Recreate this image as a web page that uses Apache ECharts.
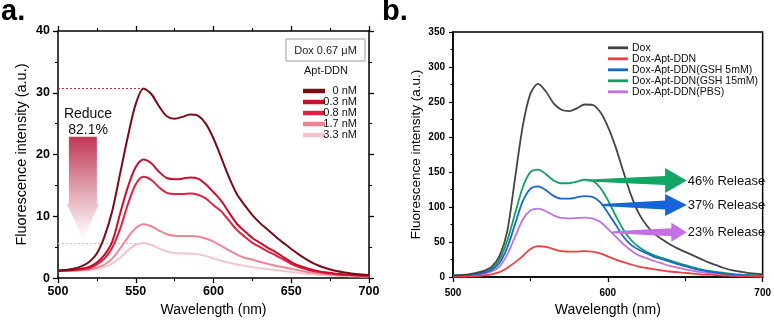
<!DOCTYPE html>
<html><head><meta charset="utf-8">
<script src="https://cdn.jsdelivr.net/npm/echarts@6/dist/echarts.min.js"></script>
<style>html,body{margin:0;padding:0;background:#fff}#c{width:774px;height:322px}</style>
</head><body><div id="c"></div>
<script>
// ---------- Panel a data ----------
const wavelengthA = [500,505,510,515,520,525,530,535,540,545,550,555,560,565,570,575,580,585,590,595,600,605,610,615,620,625,630,635,640,645,650,655,660,665,670,675,680,685,690,695,700];
const aptNames = ['0 nM','0.3 nM','0.8 nM','1.7 nM','3.3 nM'];
const apt0  = [1.2,1.3,1.5,1.9,2.6,4.0,6.8,11.0,17.0,23.0,28.2,30.7,29.8,27.8,26.2,25.8,26.1,26.5,26.3,25.0,22.6,19.5,16.3,13.6,11.8,10.2,8.9,7.8,6.7,5.7,4.7,3.8,3.0,2.3,1.8,1.4,1.1,0.9,0.7,0.6,0.5];
const apt03 = [1.2,1.25,1.3,1.5,1.8,2.5,3.8,6.0,10.5,14.8,18.0,19.2,18.6,17.2,16.2,16.0,16.1,16.3,16.1,15.2,13.9,12.5,10.6,8.8,7.6,6.5,5.7,4.9,4.2,3.4,2.6,2.0,1.6,1.25,1.0,0.85,0.7,0.6,0.5,0.45,0.4];
const apt08 = [1.2,1.25,1.3,1.4,1.6,2.2,3.2,5.0,8.0,12.0,15.2,16.4,15.9,14.7,13.8,13.6,13.6,13.7,13.5,12.9,11.8,10.8,9.3,7.8,6.7,5.7,5.0,4.3,3.7,3.0,2.3,1.8,1.4,1.1,0.9,0.75,0.6,0.52,0.45,0.4,0.35];
const apt17 = [1.2,1.2,1.2,1.3,1.4,1.7,2.2,3.2,4.8,6.6,8.1,8.7,8.4,7.7,7.1,6.85,6.8,6.8,6.75,6.4,5.9,5.2,4.5,3.8,3.3,3.0,2.6,2.3,2.0,1.75,1.5,1.25,1.0,0.85,0.7,0.6,0.5,0.45,0.4,0.35,0.3];
const apt33 = [1.2,1.2,1.2,1.25,1.3,1.5,1.8,2.4,3.3,4.5,5.4,5.7,5.4,4.8,4.3,4.05,4.0,3.95,3.85,3.6,3.2,2.8,2.5,2.2,2.0,1.8,1.6,1.45,1.3,1.15,1.0,0.85,0.7,0.6,0.5,0.42,0.35,0.32,0.3,0.27,0.25];
const aptColors = ['#7A0C16','#C8102E','#E2203F','#EE8595','#F6C4CD'];
const peakTop = 30.7, peakBottom = 5.7, peakWl = 555;
const ticksAX = {min:500,max:700,interval:50};
const ticksAY = {min:0,max:40,interval:10};

// ---------- Panel b data ----------
const wavelengthB = [500,505,510,515,520,525,530,535,540,545,550,555,560,565,570,575,580,585,590,595,600,605,610,615,620,625,630,635,640,645,650,655,660,665,670,675,680,685,690,695,700];
const bNames = ['Dox','Dox-Apt-DDN','Dox-Apt-DDN(GSH 5mM)','Dox-Apt-DDN(GSH 15mM)','Dox-Apt-DDN(PBS)'];
const dox    = [2,3,4,6,9,15,30,65,140,215,262,276,265,248,239,237,241,246.5,246,236,215,186,151,117,91,74,62,54,47,41,36,31,26,21,17,13,10,8,6,5,4];
const doxApt = [0.5,0.7,1,1.5,2.5,4,7,13,21,30,40,44.3,43,40,37,36.3,36.5,37,36.5,34,29.5,25,21.5,18,15,13,11,9.5,8,7,6,5,4,3.4,2.8,2.3,1.8,1.5,1.2,1,0.8];
const gsh5   = [2,2.5,3,4,6,10,20,42,75,108,126,129.5,124,116,112,112,114,115.5,114.5,107,92,75,58,46,39,34,29,25.5,22,18.5,15.5,12.5,10,8,6.5,5,4,3,2.5,2,1.5];
const gsh15  = [2,2.5,3,4.5,7,12,25,52,90,128,150,153.5,147,138,134,134,136.5,139,137.5,128,110,88,68,53,43,36,31,27.5,24,20.5,17,14,11,9,7.5,6,4.5,3.5,3,2.5,2];
const pbs    = [1.5,2,2.5,3.5,5,8,15,32,57,82,95,97.8,94,88,84.5,84,84.5,85,84,79,69,58,47,38,31,27,23,19.5,16,13.5,11,9,7,5.5,4.5,3.5,2.5,2,1.5,1.2,1];
const bColors = ['#454545','#EE4040','#1767CF','#11A064','#BE72E4'];
const releaseLabels = ['46% Release','37% Release','23% Release'];

const FONT = '"Liberation Sans", Arial, Helvetica, sans-serif';
const zip = (xs, ys) => xs.map((x,i)=>[x, ys[i]]);

const chart = echarts.init(document.getElementById('c'), null, {renderer:'canvas'});

function axisCommon(extra){
  return Object.assign({
    type:'value', splitLine:{show:false},
    axisLine:{show:true,onZero:false,lineStyle:{color:'#000',width:1.5}},
    axisTick:{show:true,inside:false,length:5,lineStyle:{color:'#000',width:1.3}},
    minorTick:{show:true,splitNumber:2,length:3,lineStyle:{color:'#000',width:1.1}},
    minorSplitLine:{show:false}
  }, extra);
}

const aSeriesData = [apt0, apt03, apt08, apt17, apt33];
const bSeriesData = [dox, doxApt, gsh5, gsh15, pbs];

const series = [];
aSeriesData.forEach((d,i)=>{
  const s = {
    name: aptNames[i], type:'line', xAxisIndex:0, yAxisIndex:0,
    data: zip(wavelengthA, d), smooth:0.3, showSymbol:false, symbol:'none',
    color: aptColors[i], lineStyle:{width:2, color:aptColors[i]}, z: 10 - i
  };
  if (i === 0) s.markLine = {silent:true, symbol:'none', label:{show:false},
    lineStyle:{type:[2,2], color:'#D0253F', width:1.2},
    data:[[{coord:[ticksAX.min, peakTop]},{coord:[peakWl, peakTop]}]]};
  if (i === 4) s.markLine = {silent:true, symbol:'none', label:{show:false},
    lineStyle:{type:[2,2], color:'#F2B3BF', width:1.2},
    data:[[{coord:[ticksAX.min, peakBottom]},{coord:[peakWl, peakBottom]}]]};
  series.push(s);
});
bSeriesData.forEach((d,i)=>{
  series.push({
    name: bNames[i], type:'line', xAxisIndex:2, yAxisIndex:2,
    data: zip(wavelengthB, d), smooth:0.3, showSymbol:false, symbol:'none',
    color: bColors[i], lineStyle:{width:1.8, color:bColors[i]}, z: 10 - i
  });
});

const option = {
  animation:false,
  textStyle:{fontFamily:FONT},
  grid:[
    {left:58, right:405, top:31, bottom:40},
    {left:453, right:11, top:32, bottom:39, show:true, borderColor:'#000', borderWidth:1.5}
  ],
  legend:[
    {data:aptNames, orient:'vertical', left:298, top:80.5, itemWidth:22, itemHeight:4.5, itemGap:0,
     icon:'rect', selectedMode:false,
     formatter:'{a|{name}}',
     textStyle:{fontFamily:FONT, color:'#111', rich:{a:{width:27, align:'right', fontSize:11, lineHeight:10.7, fontFamily:FONT, color:'#111'}}}},
    {data:bNames, orient:'vertical', left:603, top:37.3, itemWidth:20, itemHeight:2.8, itemGap:0,
     icon:'rect', selectedMode:false,
     textStyle:{fontFamily:FONT, color:'#111', fontSize:10.5, lineHeight:9.8, padding:[0,0,0,-1]}}
  ],
  xAxis:[
    axisCommon({gridIndex:0, min:ticksAX.min, max:ticksAX.max, interval:ticksAX.interval,
      axisLabel:{fontWeight:'bold', fontSize:12.5, color:'#000', margin:7, fontFamily:FONT},
      name:'Wavelength (nm)', nameLocation:'middle', nameGap:19,
      nameTextStyle:{fontSize:14, color:'#000', fontFamily:FONT}}),
    axisCommon({gridIndex:0, position:'top', min:ticksAX.min, max:ticksAX.max, interval:ticksAX.interval,
      axisLabel:{show:false}}),
    axisCommon({gridIndex:1, min:500, max:700, interval:100,
      minorTick:{show:true,splitNumber:2,length:4,lineStyle:{color:'#000',width:1.1}},
      axisLabel:{fontWeight:'bold', fontSize:10, color:'#000', margin:11, fontFamily:FONT},
      name:'Wavelength (nm)', nameLocation:'middle', nameGap:23,
      nameTextStyle:{fontSize:14, color:'#000', fontFamily:FONT}})
  ],
  yAxis:[
    axisCommon({gridIndex:0, min:ticksAY.min, max:ticksAY.max, interval:ticksAY.interval,
      axisLabel:{fontWeight:'bold', fontSize:12.5, color:'#000', margin:8, fontFamily:FONT},
      name:'Fluorescence intensity (a.u.)', nameLocation:'middle', nameGap:29,
      nameTextStyle:{fontSize:14.5, color:'#000', fontFamily:FONT}}),
    axisCommon({gridIndex:0, position:'right', min:ticksAY.min, max:ticksAY.max, interval:ticksAY.interval,
      axisLabel:{show:false}}),
    axisCommon({gridIndex:1, min:0, max:350, interval:50,
      axisTick:{show:true,length:4,lineStyle:{color:'#000',width:1.2}},
      minorTick:{show:true,splitNumber:2,length:2.5,lineStyle:{color:'#000',width:1}},
      axisLabel:{fontWeight:'bold', fontSize:10, color:'#000', margin:8, fontFamily:FONT},
      name:'Fluorescence intensity (a.u.)', nameLocation:'middle', nameGap:30,
      nameTextStyle:{fontSize:13.5, color:'#000', fontFamily:FONT}})
  ],
  series: series
};
chart.setOption(option);

// ---------- annotations ----------
const cp = (g, p) => chart.convertToPixel({gridIndex:g}, p);
const g = [];
g.push({type:'text', left:1, top:-3, style:{text:'a.', font:'bold 29px '+FONT, fill:'#000'}});
g.push({type:'text', left:382, top:-3, style:{text:'b.', font:'bold 29px '+FONT, fill:'#000'}});
g.push({type:'rect', shape:{x:286, y:39, width:79, height:22}, style:{fill:'#fff', stroke:'#9a9a9a', lineWidth:1}, z:20});
g.push({type:'text', x:325.5, y:50.5, style:{text:'Dox 0.67 μM', font:'11px '+FONT, fill:'#222', align:'center', verticalAlign:'middle'}, z:21});
g.push({type:'text', x:326, y:71, style:{text:'Apt-DDN', font:'11px '+FONT, fill:'#111', align:'center', verticalAlign:'middle'}, z:21});
const A = [[507,22.9],[525,22.9],[525,12],[526.4,12],[516,6.4],[505.8,12],[507,12]].map(p=>cp(0,p));
g.push({type:'polygon', shape:{points:A}, style:{fill:new echarts.graphic.LinearGradient(0,0,0,1,[
  {offset:0,color:'#BF3753'},{offset:0.55,color:'#E4A9B6'},{offset:1,color:'#FFFFFF'}])}, z:5});
const rt = cp(0,[519.3,26.5]);
g.push({type:'text', x:rt[0], y:rt[1], style:{text:'Reduce', font:'14px '+FONT, fill:'#111', align:'center', verticalAlign:'middle'}});
const rt2 = cp(0,[519.3,24.0]);
g.push({type:'text', x:rt2[0], y:rt2[1], style:{text:'82.1%', font:'14px '+FONT, fill:'#111', align:'center', verticalAlign:'middle'}});
const arrows = [
  {tail:[587,138], head:637, tip:651, t0:1, bh:4.5, hh:12.5, color:'#12A565'},
  {tail:[596,103], head:637, tip:651, t0:1, bh:4.5, hh:11, color:'#1565D8'},
  {tail:[603,64],  head:641, tip:651, t0:1, bh:4, hh:9.5, color:'#C46FE6'}
];
arrows.forEach((a,i)=>{
  const t = cp(1,a.tail), hx = cp(1,[a.head,a.tail[1]])[0], px = cp(1,[a.tip,a.tail[1]])[0], y=t[1];
  g.push({type:'polygon', z:15, shape:{points:[[t[0],y-a.t0],[hx,y-a.bh],[hx,y-a.hh],[px,y],[hx,y+a.hh],[hx,y+a.bh],[t[0],y+a.t0]]},
    style:{fill:a.color}});
  g.push({type:'text', z:16, x:px+1, y:y+0.5, style:{text:releaseLabels[i], font:'13px '+FONT, fill:'#111', align:'left', verticalAlign:'middle'}});
});
chart.setOption({graphic:g});
</script></body></html>
